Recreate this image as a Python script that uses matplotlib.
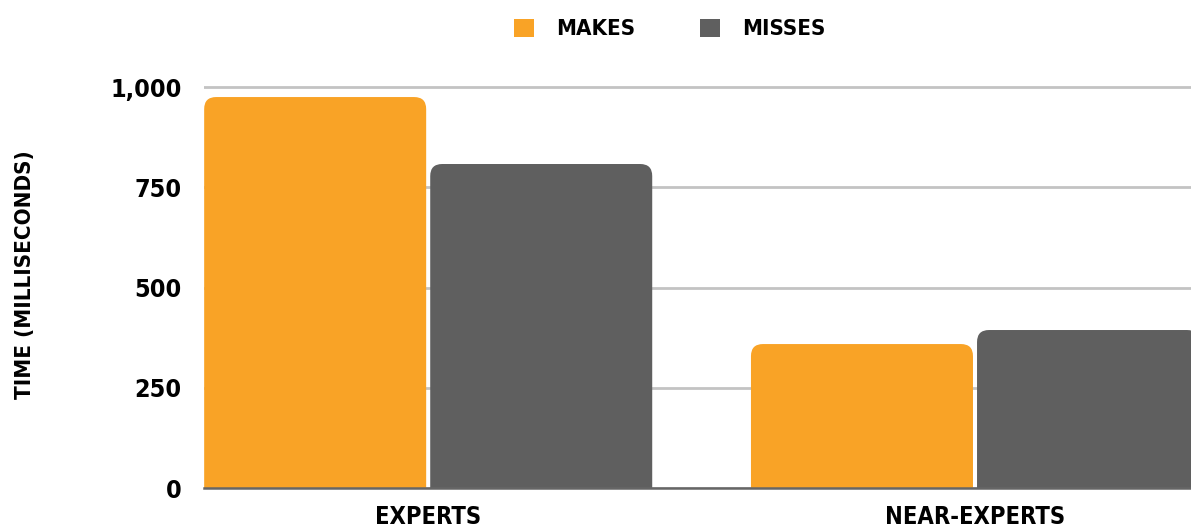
import matplotlib
matplotlib.use("Agg")
import matplotlib.pyplot as plt
from matplotlib.patches import FancyBboxPatch, Patch

# data
groups = ["Experts", "Near-Experts"]
series = ["Makes", "Misses"]
makes = [975, 359]
misses = [808, 394]
yticks = [0, 250, 500, 750, 1000]
ytick_labels = ["0", "250", "500", "750", "1,000"]

ORANGE = "#F9A326"
GRAY = "#5F5F5F"

plt.rcParams["font.family"] = ["DejaVu Sans"]
plt.rcParams["font.weight"] = "bold"
plt.rcParams["font.stretch"] = "condensed"

fig = plt.figure(figsize=(11.91, 5.32), dpi=100)
ax = fig.add_axes([204 / 1191, 44 / 532, 1 - 204 / 1191, 409 / 532])

bar_w = 0.406
gap = 0.0037
ax.set_xlim(-0.41, 1.395)
ax.set_ylim(0, 1020)

# px -> data scale for rounded corners
fig.canvas.draw()
bbox = ax.get_window_extent()
x_per_px = (1.395 + 0.41) / bbox.width
y_per_px = 1020 / bbox.height
radius = 12 * x_per_px
aspect = y_per_px / x_per_px

for i, g in enumerate(groups):
    for vals, color, offs in ((makes, ORANGE, -gap - bar_w), (misses, GRAY, gap)):
        x0 = i + offs
        h = vals[i]
        p = FancyBboxPatch((x0 + radius, -50), bar_w - 2 * radius, h + 50 - radius * aspect,
                           boxstyle=f"round,pad={radius},rounding_size={radius}",
                           mutation_aspect=aspect, fc=color, ec="none", zorder=3)
        ax.add_patch(p)

ax.set_yticks(yticks)
ax.set_yticklabels(ytick_labels, fontsize=18)
ax.set_xticks([0, 1])
ax.set_xticklabels([g.upper() for g in groups], fontsize=17)
ax.tick_params(axis="both", length=0)
ax.tick_params(axis="y", pad=16)
ax.tick_params(axis="x", pad=12)

ax.grid(axis="y", color="#C3C3C3", lw=2, zorder=1)
for s in ["top", "right", "left"]:
    ax.spines[s].set_visible(False)
ax.spines["bottom"].set_color("#666666")
ax.spines["bottom"].set_linewidth(1.8)
ax.spines["bottom"].set_zorder(4)

fig.text(25 / 1191, 1 - 275 / 532, "Time (milliseconds)".upper(), rotation=90,
         ha="center", va="center", fontsize=16)

handles = [Patch(fc=ORANGE, ec="none"), Patch(fc=GRAY, ec="none")]
fig.legend(handles, [s.upper() for s in series], loc="center",
           bbox_to_anchor=(670 / 1191, 1 - 29 / 532), ncol=2, frameon=False,
           fontsize=16, handlelength=0.9, handleheight=0.9, handletextpad=1.0,
           columnspacing=2.9)

fig.savefig("out.png", dpi=100)
